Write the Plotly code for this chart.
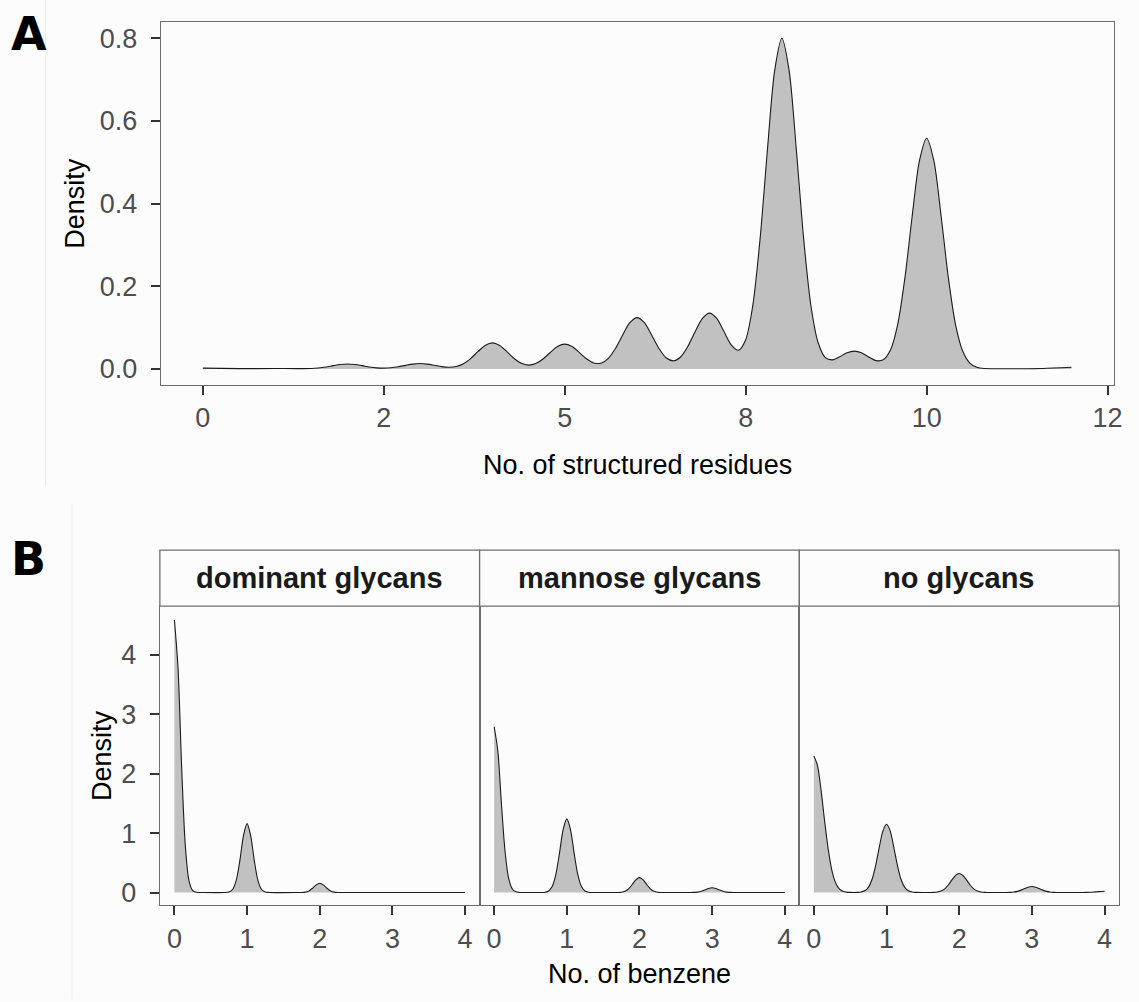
import plotly.graph_objects as go

# ---------------- data ----------------
# Panel A: density of the number of structured residues
A_x = [0.0, 0.5, 1.0, 1.3, 1.5, 1.6, 1.7, 1.8, 1.9, 2.0, 2.1, 2.2, 2.3, 2.4, 2.5, 2.6, 2.7, 2.8, 2.9,
       3.0, 3.1, 3.2, 3.3, 3.4, 3.5, 3.6, 3.7, 3.8, 3.9, 4.0, 4.1, 4.2, 4.3, 4.4, 4.5, 4.6, 4.7, 4.8, 4.9,
       5.0, 5.1, 5.2, 5.3, 5.4, 5.5, 5.6, 5.7, 5.8, 5.9, 6.0, 6.1, 6.2, 6.3, 6.4, 6.5, 6.6, 6.7, 6.8, 6.9,
       7.0, 7.1, 7.2, 7.3, 7.4, 7.5, 7.6, 7.7, 7.8, 7.9, 8.0, 8.1, 8.2, 8.3, 8.4, 8.5, 8.6, 8.7, 8.8, 8.9,
       9.0, 9.1, 9.2, 9.3, 9.4, 9.5, 9.6, 9.7, 9.8, 9.9, 10.0, 10.1, 10.2, 10.3, 10.4, 10.5, 10.6, 10.7,
       10.8, 10.9, 11.2, 11.6, 12.0]
A_y = [0.002, 0.0008, 0.001, 0.0008, 0.001, 0.0023, 0.0047, 0.0079, 0.0108, 0.012, 0.0108, 0.0080, 0.0048, 0.0026, 0.0019, 0.0028, 0.0052, 0.0086, 0.0117,
       0.013, 0.0117, 0.0087, 0.0055, 0.0040, 0.0057, 0.0124, 0.0250, 0.0417, 0.0568, 0.063, 0.0568, 0.0418, 0.0253, 0.0135, 0.0093, 0.0130, 0.0241, 0.0398, 0.0541,
       0.060, 0.0541, 0.0399, 0.0245, 0.0145, 0.0139, 0.0251, 0.0494, 0.0822, 0.1118, 0.124, 0.1119, 0.0823, 0.0499, 0.0270, 0.0196, 0.0288, 0.0541, 0.0896, 0.1218,
       0.135, 0.1220, 0.0904, 0.0584, 0.0452, 0.0707, 0.1561, 0.3169, 0.5296, 0.7216, 0.800, 0.7216, 0.5297, 0.3163, 0.1540, 0.0640, 0.0275, 0.0220, 0.0295, 0.0390,
       0.0430, 0.0390, 0.0290, 0.0200, 0.0220, 0.0455, 0.1076, 0.2207, 0.3694, 0.5033, 0.558, 0.5033, 0.3694, 0.2204, 0.1066, 0.0422, 0.0136, 0.0035,
       0.0009, 0.0004, 0.0005, 0.0010, 0.0040]
A_tickvals = [0, 2.5, 5, 7.5, 10, 12.5]
A_ticktext = ["0", "2", "5", "8", "10", "12"]
A_yticks = [0.0, 0.2, 0.4, 0.6, 0.8]
A_yticktext = ["0.0", "0.2", "0.4", "0.6", "0.8"]

# Panel B: density of the number of benzene, per glycan group
facets = ["dominant glycans", "mannose glycans", "no glycans"]

dom_x = [0, 0.05, 0.1, 0.15, 0.2, 0.25, 0.3, 0.4,
         0.7, 0.75, 0.8, 0.85, 0.9, 0.95, 1.0, 1.05, 1.1, 1.15, 1.2, 1.25, 1.3,
         1.7, 1.75, 1.8, 1.85, 1.9, 1.95, 2.0, 2.05, 2.1, 2.15, 2.2, 2.25, 2.3,
         3.0, 4.0]
dom_y = [4.59, 3.78, 2.10, 0.79, 0.20, 0.035, 0.004, 0.0,
         0.0, 0.009, 0.051, 0.20, 0.531, 0.955, 1.16, 0.955, 0.531, 0.20, 0.051, 0.009, 0.001,
         0.0, 0.001, 0.007, 0.027, 0.071, 0.128, 0.155, 0.128, 0.071, 0.027, 0.007, 0.001, 0.0,
         0.0, 0.0]

man_x = [0, 0.05, 0.1, 0.15, 0.2, 0.25, 0.3, 0.35, 0.4,
         0.6, 0.65, 0.7, 0.75, 0.8, 0.85, 0.9, 0.95, 1.0, 1.05, 1.1, 1.15, 1.2, 1.25, 1.3, 1.35, 1.4,
         1.6, 1.65, 1.7, 1.75, 1.8, 1.85, 1.9, 1.95, 2.0, 2.05, 2.1, 2.15, 2.2, 2.25, 2.3, 2.35, 2.4,
         2.6,
         2.7, 2.75, 2.8, 2.85, 2.9, 2.95, 3.0, 3.05, 3.1, 3.15, 3.2, 3.25, 3.3,
         3.4, 4.0]
man_y = [2.79, 2.39, 1.50, 0.695, 0.236, 0.059, 0.011, 0.001, 0.0,
         0.0, 0.0006, 0.005, 0.026, 0.105, 0.309, 0.668, 1.063, 1.24, 1.063, 0.668, 0.309, 0.105, 0.026, 0.005, 0.0006, 0.0,
         0.0, 0.0001, 0.001, 0.005, 0.021, 0.062, 0.135, 0.214, 0.25, 0.214, 0.135, 0.062, 0.021, 0.005, 0.001, 0.0001, 0.0,
         0.0,
         0.0003, 0.0017, 0.0068, 0.020, 0.043, 0.069, 0.08, 0.069, 0.043, 0.020, 0.0068, 0.0017, 0.0003,
         0.0, 0.0]

nog_x = [0, 0.05, 0.1, 0.15, 0.2, 0.25, 0.3, 0.35, 0.4, 0.45, 0.5, 0.55, 0.6, 0.65, 0.7, 0.75, 0.8, 0.85, 0.9, 0.95,
         1.0, 1.05, 1.1, 1.15, 1.2, 1.25, 1.3, 1.35, 1.4,
         1.5, 1.6,
         1.65, 1.7, 1.75, 1.8, 1.85, 1.9, 1.95, 2.0, 2.05, 2.1, 2.15, 2.2, 2.25, 2.3, 2.35, 2.4,
         2.5, 2.6,
         2.65, 2.7, 2.75, 2.8, 2.85, 2.9, 2.95, 3.0, 3.05, 3.1, 3.15, 3.2, 3.25, 3.3, 3.35, 3.4,
         3.5, 3.7,
         3.75, 3.8, 3.85, 3.9, 3.95, 4.0]
nog_y = [2.30, 2.137, 1.711, 1.182, 0.704, 0.361, 0.160, 0.061, 0.020, 0.006, 0.0014, 0.0005, 0.0015, 0.0072, 0.028, 0.087, 0.220, 0.454, 0.761, 1.037,
         1.15, 1.037, 0.761, 0.454, 0.220, 0.087, 0.028, 0.0072, 0.0015,
         0.0, 0.0004,
         0.002, 0.0078, 0.024, 0.061, 0.126, 0.212, 0.289, 0.32, 0.289, 0.212, 0.126, 0.061, 0.024, 0.0078, 0.002, 0.0004,
         0.0, 0.0001,
         0.0006, 0.0024, 0.0076, 0.019, 0.040, 0.066, 0.090, 0.10, 0.090, 0.066, 0.040, 0.019, 0.0076, 0.0024, 0.0006, 0.0001,
         0.0, 0.0005,
         0.0015, 0.0038, 0.0079, 0.0132, 0.018, 0.02]

B_xticks = [0, 1, 2, 3, 4]
B_yticks = [0, 1, 2, 3, 4]

# ---------------- styling ----------------
W, H = 1139, 1002
BG = "#fcfcfc"
FILL = "#c0c1c0"
LINE = "#1a1a1a"
FONT = "Liberation Sans, Arial, Helvetica, sans-serif"
TICKFONT = dict(family=FONT, size=27, color="#4d4d4d")
TITLEFONT = dict(family=FONT, size=27, color="#000000")
BORDER = "#6e6e6e"


def px(x):
    return x / W


def py(y):
    return 1 - y / H


fig = go.Figure()

# Panel A
fig.add_trace(go.Scatter(x=A_x, y=A_y, mode="lines", fill="tozeroy", fillcolor=FILL,
                         line=dict(color=LINE, width=1.1, shape="spline", smoothing=0.8),
                         xaxis="x", yaxis="y", showlegend=False, hoverinfo="skip"))

# Panel B
series_B = [(dom_x, dom_y), (man_x, man_y), (nog_x, nog_y)]
for i, (xs, ys) in enumerate(series_B):
    fig.add_trace(go.Scatter(x=xs, y=ys, mode="lines", fill="tozeroy", fillcolor=FILL,
                             line=dict(color=LINE, width=1.1, shape="spline", smoothing=0.8),
                             xaxis="x%d" % (i + 2), yaxis="y%d" % (i + 2),
                             showlegend=False, hoverinfo="skip"))

common_axis = dict(showgrid=False, zeroline=False, showline=True, mirror=True,
                   linecolor=BORDER, linewidth=1.3, ticks="outside", ticklen=9,
                   tickwidth=1.5, tickcolor="#333333", tickfont=TICKFONT)

layout = dict(
    width=W, height=H, autosize=False,
    margin=dict(l=0, r=0, t=0, b=0),
    paper_bgcolor=BG, plot_bgcolor=BG,
    showlegend=False,
    xaxis=dict(domain=[px(162), px(1122)], range=[-0.58, 12.59], anchor="y",
               tickvals=A_tickvals, ticktext=A_ticktext, ticklabelstandoff=0, **common_axis),
    yaxis=dict(domain=[py(386), py(21.7)], range=[-0.0385, 0.84], anchor="x",
               tickvals=A_yticks, ticktext=A_yticktext, ticklabelstandoff=8, **common_axis),
)

B_left = [161, 483, 805]
B_w = 322
for i in range(3):
    xa = "xaxis%d" % (i + 2)
    ya = "yaxis%d" % (i + 2)
    layout[xa] = dict(domain=[px(B_left[i]), px(B_left[i] + B_w)], range=[-0.2, 4.2],
                      anchor="y%d" % (i + 2), tickvals=B_xticks, ticklabelstandoff=0, **common_axis)
    yax = dict(domain=[py(907.7), py(608)], range=[-0.21, 4.82], anchor="x%d" % (i + 2),
               tickvals=B_yticks, ticklabelstandoff=8, **common_axis)
    if i > 0:
        yax["showticklabels"] = False
        yax["ticks"] = ""
    layout[ya] = yax

fig.update_layout(**layout)

shapes = []
annotations = []
# strips
for i, name in enumerate(facets):
    x0 = B_left[i]
    shapes.append(dict(type="rect", xref="paper", yref="paper",
                       x0=px(x0), x1=px(x0 + B_w), y0=py(608), y1=py(551.7),
                       fillcolor=BG, line=dict(color=BORDER, width=1.3)))
    annotations.append(dict(text="<b>%s</b>" % name, xref="paper", yref="paper",
                            x=px(x0 + B_w / 2), y=py(580), xanchor="center", yanchor="middle",
                            showarrow=False, font=dict(family=FONT, size=29, color="#1a1a1a")))

# faint image edges
shapes.append(dict(type="line", xref="paper", yref="paper", x0=px(46), x1=px(46), y0=py(0), y1=py(488),
                   line=dict(color="#ececec", width=1)))
shapes.append(dict(type="line", xref="paper", yref="paper", x0=px(72.5), x1=px(72.5), y0=py(505), y1=py(1002),
                   line=dict(color="#ececec", width=1)))

# axis titles
annotations += [
    dict(text="Density", xref="paper", yref="paper", x=px(76), y=py(204), textangle=-90,
         xanchor="center", yanchor="middle", showarrow=False, font=TITLEFONT),
    dict(text="No. of structured residues", xref="paper", yref="paper", x=px(642), y=py(466),
         xanchor="center", yanchor="middle", showarrow=False, font=TITLEFONT),
    dict(text="Density", xref="paper", yref="paper", x=px(102), y=py(758), textangle=-90,
         xanchor="center", yanchor="middle", showarrow=False, font=TITLEFONT),
    dict(text="No. of benzene", xref="paper", yref="paper", x=px(644), y=py(977),
         xanchor="center", yanchor="middle", showarrow=False, font=TITLEFONT),
    dict(text="<b>A</b>", xref="paper", yref="paper", x=px(9), y=py(34),
         xanchor="left", yanchor="middle", showarrow=False,
         font=dict(family="DejaVu Sans, Liberation Sans, sans-serif", size=46, color="#000000")),
    dict(text="<b>B</b>", xref="paper", yref="paper", x=px(9), y=py(561),
         xanchor="left", yanchor="middle", showarrow=False,
         font=dict(family="DejaVu Sans, Liberation Sans, sans-serif", size=46, color="#000000")),
]

fig.update_layout(shapes=shapes, annotations=annotations)

fig.write_html("out.html")
